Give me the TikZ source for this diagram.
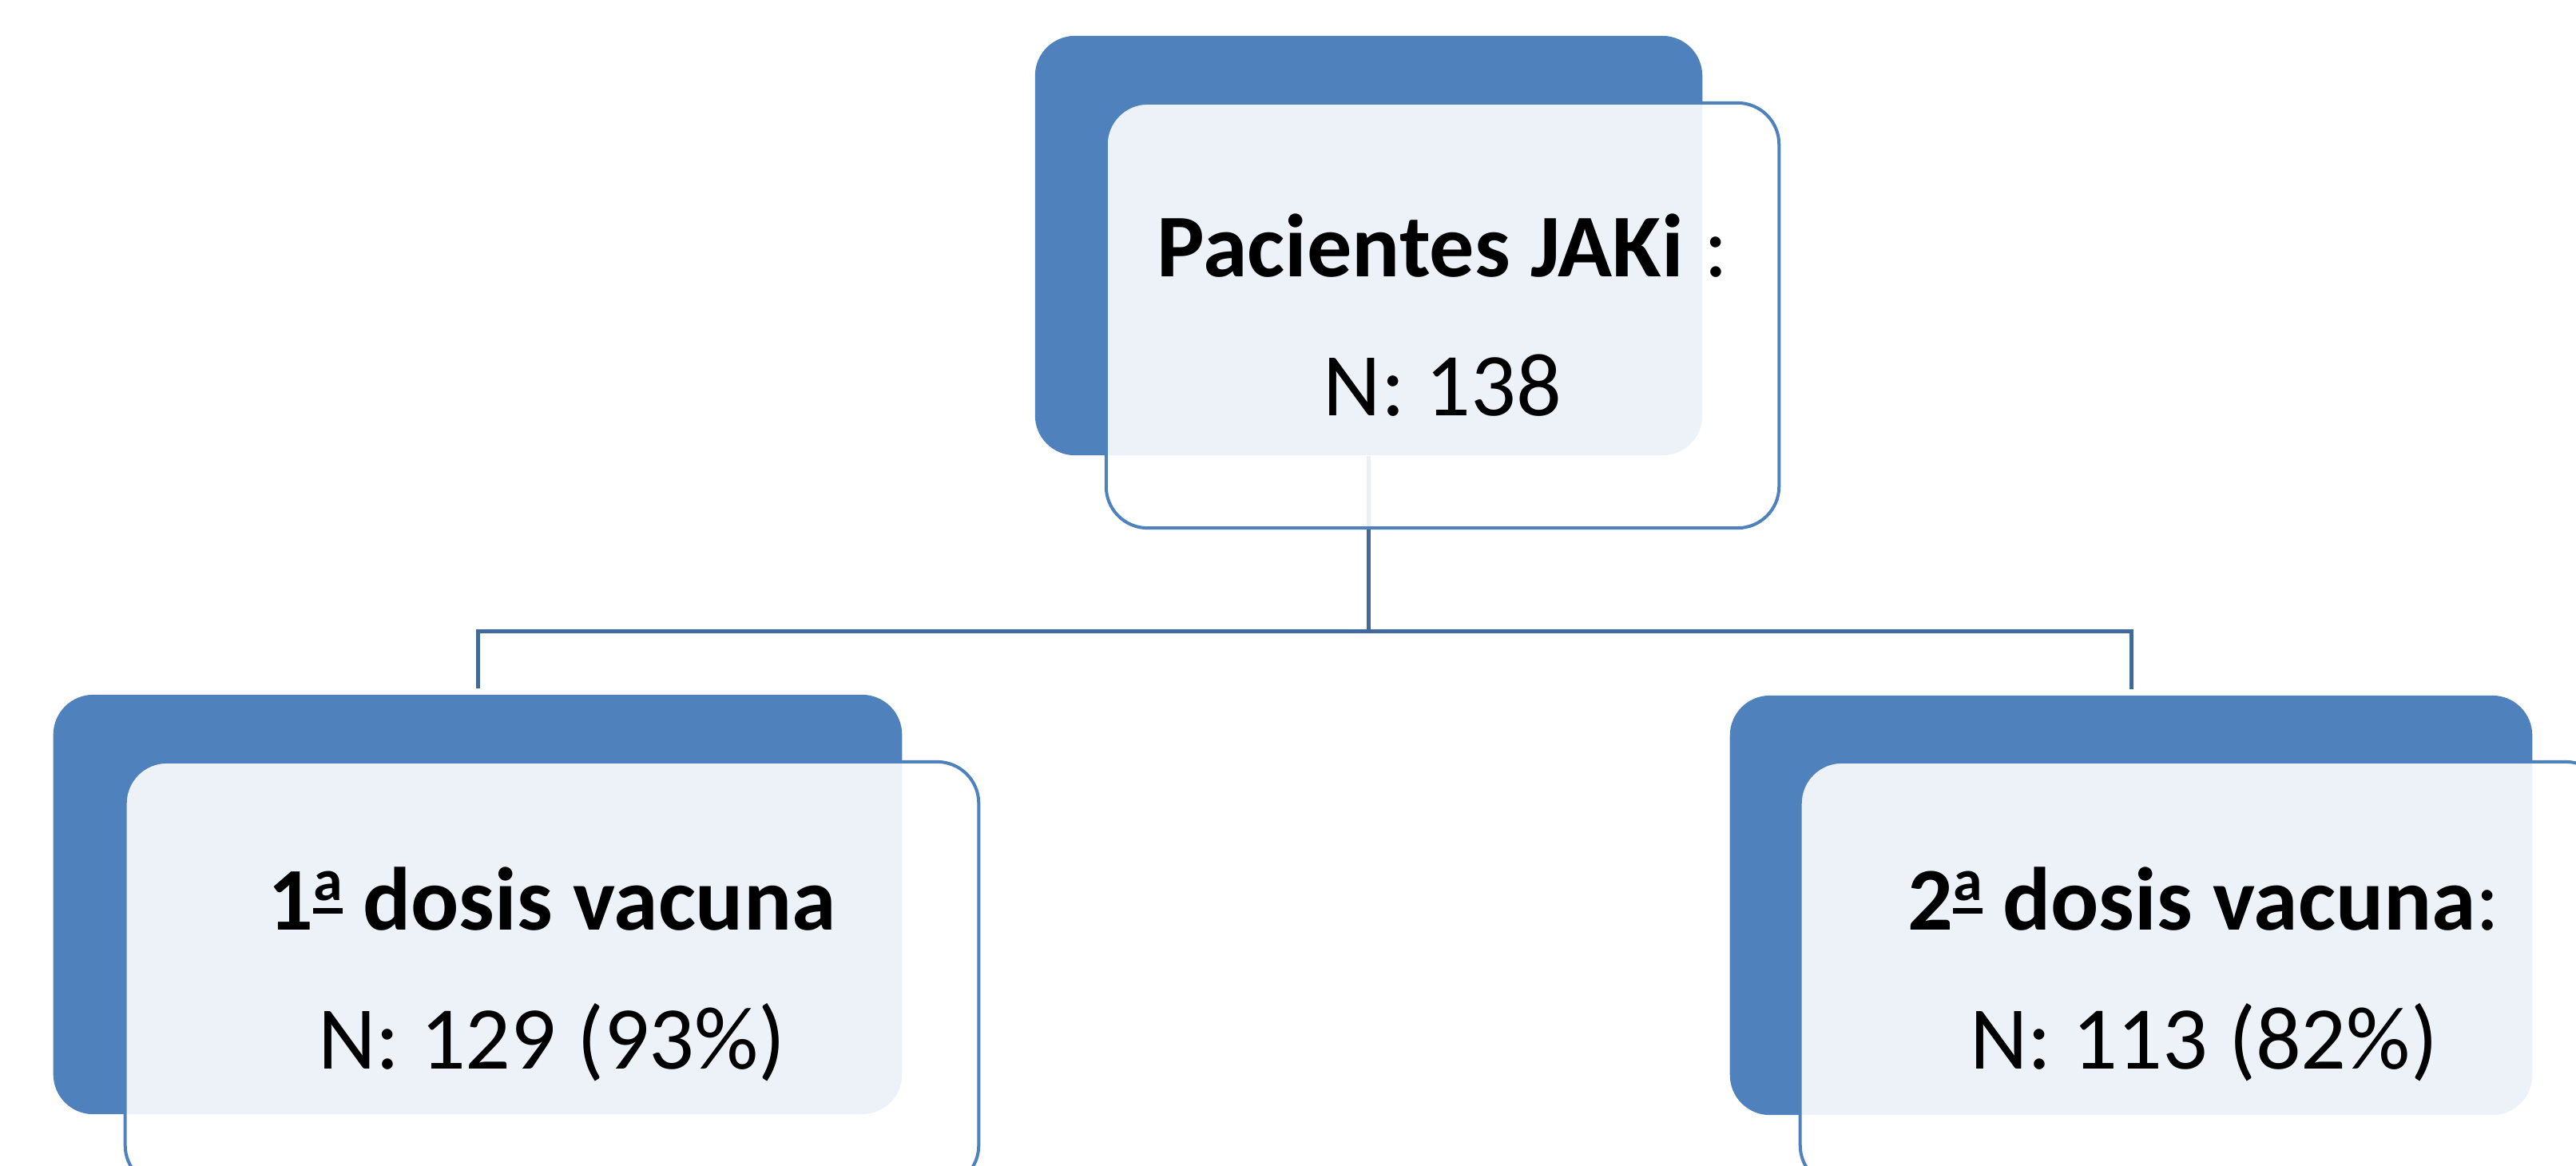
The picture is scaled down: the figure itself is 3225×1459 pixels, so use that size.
\documentclass[tikz,border=0pt]{standalone}
\usepackage{fontspec}
\setmainfont{Carlito}
\definecolor{darkfill}{HTML}{4F81BD}
\definecolor{conncol}{HTML}{41699A}
\newcommand{\ordA}{\leavevmode\setbox0\hbox{\fontsize{21}{21}\selectfont\bfseries a}%
  \raisebox{0.33em}{\copy0}\kern-\wd0\raisebox{0.18em}{\rule{\wd0}{0.07em}}}
\begin{document}
\begin{tikzpicture}[x=0.01cm,y=-0.01cm,
  darkbox/.style={rectangle,rounded corners=0.5cm,fill=darkfill,draw=none,inner sep=0pt},
  lightbox/.style={rectangle,rounded corners=0.52cm,fill=white,fill opacity=0.9,text opacity=1,
    draw=darkfill,line width=0.04cm,inner sep=0pt,align=center,
    font=\fontsize{31.9}{49.5}\selectfont},
  conn/.style={draw=conncol,line width=0.05cm}]
\useasboundingbox (0,0) rectangle (3225,1459);
\clip (0,0) rectangle (3225,1459);
% dark back boxes
\node[darkbox,minimum width=8.35cm,minimum height=5.25cm] (topdark) at (1713.5,307.5) {};
\node[darkbox,minimum width=10.62cm,minimum height=5.25cm] (leftdark) at (598,1132.5) {};
\node[darkbox,minimum width=10.04cm,minimum height=5.25cm] (rightdark) at (2668,1133.5) {};
% connectors
\path (topdark.south) ++(0,220) coordinate (bus);
\draw[conn,shorten >=0.07cm] (topdark.south) -- (bus) -| (leftdark.north);
\draw[conn,shorten >=0.07cm] (bus) -| (rightdark.north);
% front boxes with text
\node[lightbox,minimum width=8.42cm,minimum height=5.32cm] (toplight) at (1806,395)
  {\textbf{Pacientes JAKi} :\\N: 138};
\node[lightbox,minimum width=10.68cm,minimum height=5.32cm] (leftlight) at (691,1220)
  {\textbf{1\ordA{} dosis vacuna}\\N: 129 (93\%)};
\node[lightbox,minimum width=10.10cm,minimum height=5.32cm] (rightlight) at (2759,1220)
  {\textbf{2\ordA{} dosis vacuna}:\\N: 113 (82\%)};
\end{tikzpicture}
\end{document}
